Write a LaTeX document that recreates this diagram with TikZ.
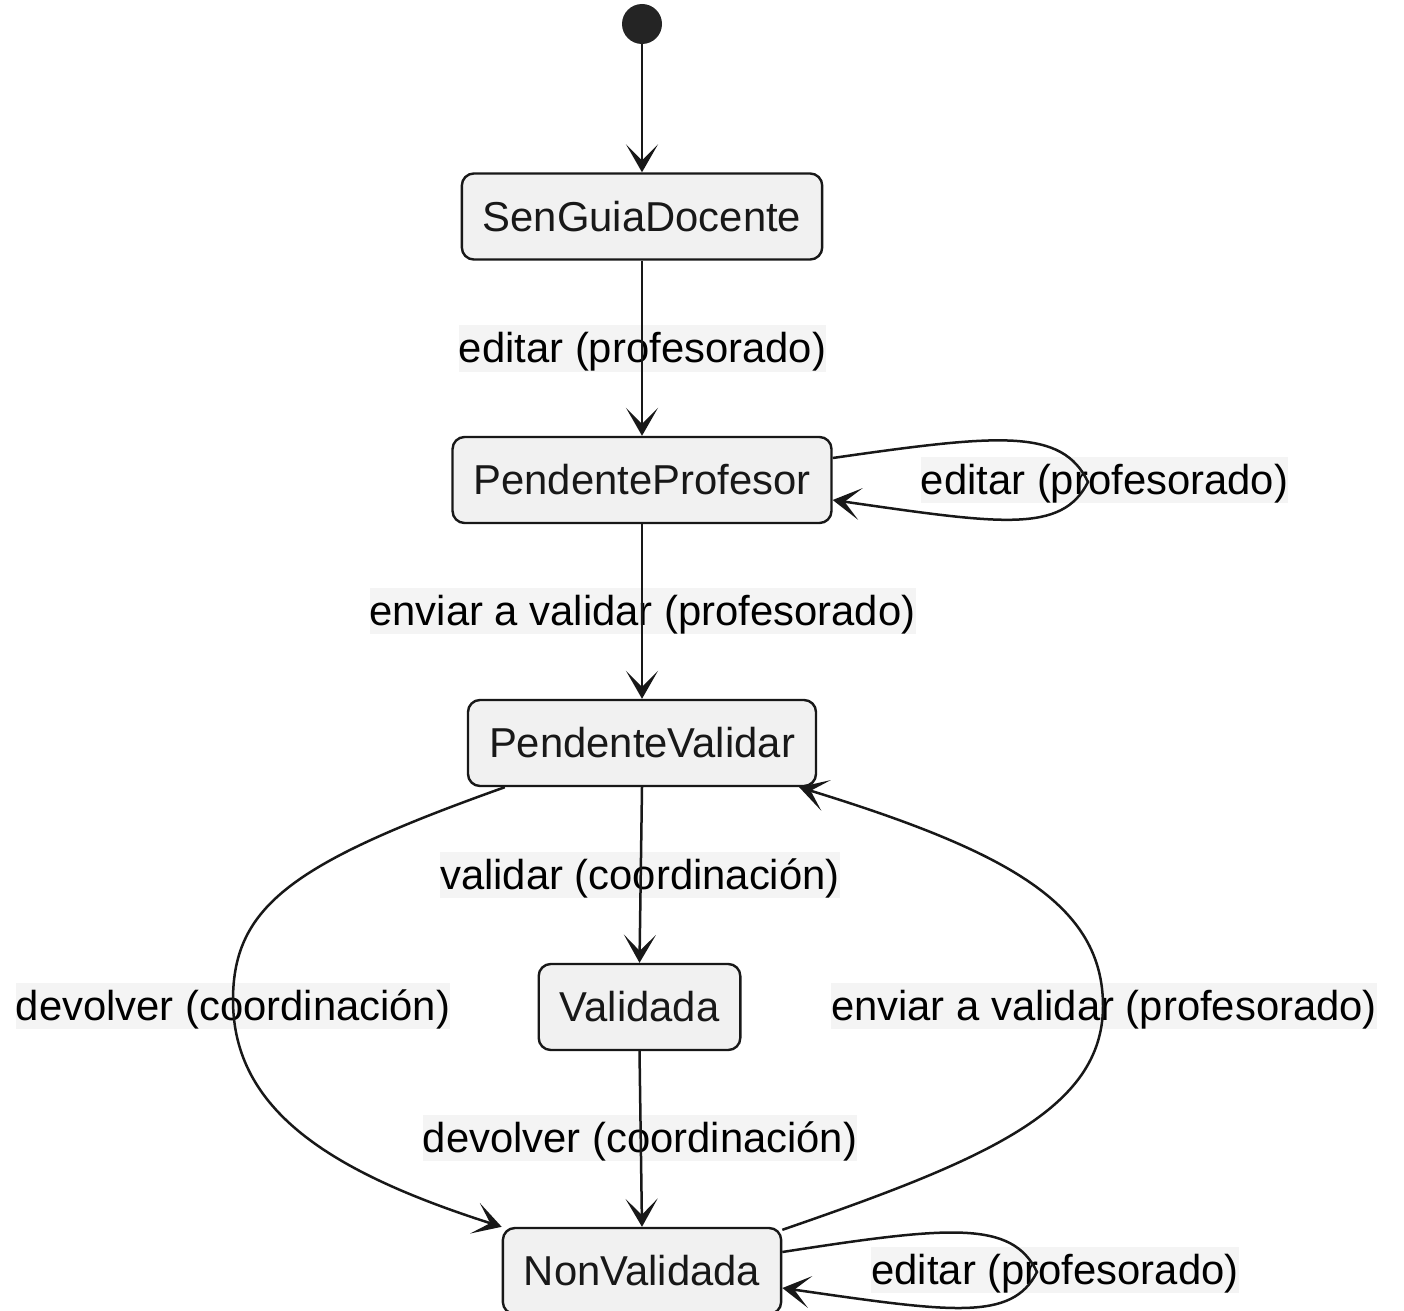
\documentclass[tikz,border=0pt]{standalone}
\usepackage{fontspec}
\setmainfont{Liberation Sans}
\usetikzlibrary{arrows.meta,calc}
\definecolor{ln}{HTML}{181818}
\definecolor{boxfill}{HTML}{F1F1F1}
\definecolor{lblfill}{HTML}{F4F4F4}
\tikzset{
  state/.style={draw=ln, line width=1.2pt, fill=boxfill, rounded corners=6pt,
    inner xsep=10.5pt, inner ysep=0pt, minimum height=43pt,
    font=\fontsize{20.9pt}{24pt}\selectfont, text=ln},
  lbl/.style={fill=lblfill, inner sep=0pt, text height=18.8pt, text depth=4.6pt,
    font=\fontsize{20.9pt}{24pt}\selectfont, text=black},
  arr/.style={draw=ln, line width=1.25pt, -{Stealth[length=14pt,width=16pt,inset=8pt]}},
}
\begin{document}
\begin{tikzpicture}[x=0.5pt,y=-0.5pt]
\useasboundingbox (0,0) rectangle (1404,1311);
% labels (drawn first so lines pass over them)
\node[lbl] (l1) at (642.5,348.5) {editar (profesorado)};
\node[lbl] (l2) at (1104.5,480) {editar (profesorado)};
\node[lbl] (l3) at (642.5,611) {enviar a validar (profesorado)};
\node[lbl] (l4) at (640,875) {validar (coordinación)};
\node[lbl] (l5) at (233,1006) {devolver (coordinación)};
\node[lbl] (l6) at (1104,1006) {enviar a validar (profesorado)};
\node[lbl] (l7) at (640,1138) {devolver (coordinación)};
\node[lbl] (l8) at (1055,1270) {editar (profesorado)};
% states
\node[circle, fill=ln!95, draw=none, minimum size=20pt, inner sep=0pt] (start) at (642,24) {};
\node[state] (sen) at (642,216.5) {SenGuiaDocente};
\node[state] (pp) at (642,480) {PendenteProfesor};
\node[state] (pv) at (642,743) {PendenteValidar};
\node[state] (val) at (639.5,1007) {Validada};
\node[state] (nv) at (642,1271) {NonValidada};
% edges
\draw[arr] (start) -- (sen);
\draw[arr] (sen) -- (pp);
\draw[arr] (pp) -- (pv);
\draw[arr] (pv.south) -- (val.north);
\draw[arr] (val.south) -- (nv.north);
\draw[arr] ($(pp.east)+(0,-22)$) .. controls (1000,434) and (1062,428) .. (1088,482)
  .. controls (1062,534) and (1000,524) .. ($(pp.east)+(0,20)$);
\draw[arr] ($(pv.south west)+(38,0)$) .. controls (295,862) and (233,905) .. (233,1000)
  .. controls (233,1110) and (330,1172) .. (nv.north west);
\draw[arr] ($(nv.north east)+(0,3)$) .. controls (985,1160) and (1103,1110) .. (1103,1006)
  .. controls (1103,905) and (1010,852) .. ($(pv.south east)+(-18,0)$);
\draw[arr] ($(nv.east)+(0,-19)$) .. controls (950,1226) and (1012,1220) .. (1037,1272)
  .. controls (1012,1322) and (950,1312) .. ($(nv.east)+(0,17)$);
\end{tikzpicture}
\end{document}
